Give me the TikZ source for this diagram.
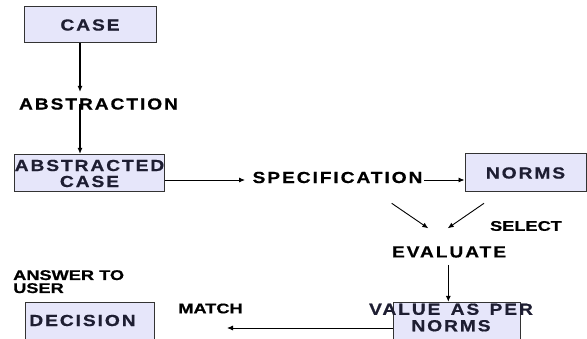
\documentclass[tikz,border=0pt]{standalone}
\usepackage{fontspec}
\setmainfont{Liberation Sans}
\newfontfamily\bigfont{Liberation Sans}[FakeStretch=1.2,LetterSpace=12,FakeBold=0.6]
\newfontfamily\smallfont{Liberation Sans}[FakeStretch=1.3,FakeBold=0.6]
\usetikzlibrary{arrows.meta}
\definecolor{boxfill}{HTML}{E6E6FA}
\definecolor{boxline}{HTML}{333333}
\definecolor{boxtext}{HTML}{1E1E32}
\begin{document}
\begin{tikzpicture}[x=1pt,y=-1pt,
  box/.style={draw=boxline, fill=boxfill, line width=1pt, inner sep=0pt, text=boxtext, align=center,
    font=\bigfont\bfseries\fontsize{16}{16}\selectfont},
  lbl/.style={inner sep=0pt, align=center, font=\bigfont\bfseries\fontsize{16}{16.5}\selectfont},
  small/.style={inner sep=0pt, align=left, font=\smallfont\bfseries\fontsize{14}{13}\selectfont},
  arr/.style={-{Latex[length=6pt,width=5pt]}, line width=0.9pt}]
\clip (0,0) rectangle (587,339);

% boxes
\node (case) at (90,25) [box, minimum width=132pt, minimum height=36pt] {CASE};
\node (abcase) at (89.5,173.5) [box, minimum width=129pt, minimum height=37pt] {ABSTRACTED\\CASE};
\node (norms) at (525.5,173) [box, minimum width=121pt, minimum height=38pt] {NORMS};
\node (value) at (456.5,322) [box, minimum width=127pt, minimum height=38pt] {};
\node (decision) at (89.5,322) [box, minimum width=129pt, minimum height=38pt] {};
\node (valuetext) at (451,317.5) [lbl, text=boxtext] {VALUE\hspace{3pt} AS\hspace{3pt} PER\\NORMS};
\node (decisiontext) at (82.5,320.5) [lbl, text=boxtext] {DECISION};

% labels
\node (abstraction) at (98.5,104) [lbl] {ABSTRACTION};
\node (spec) at (337.5,177.5) [lbl] {SPECIFICATION};
\node (evaluate) at (449,252) [lbl] {EVALUATE};
\node (select) at (526,226) [small] {SELECT};
\node (match) at (210.5,308.5) [small] {MATCH};
\node (answer) at (13,270) [small, anchor=north west] {ANSWER TO\\USER};

% free ends
\coordinate (t1) at (80,92);
\coordinate (s2) at (80,104);
\coordinate (t2) at (80,154);
\coordinate (t3) at (245,180);
\coordinate (s4) at (424,180);
\coordinate (s5) at (391.7,203.3);
\coordinate (t5) at (428.3,228.3);
\coordinate (s6) at (484,203.3);
\coordinate (t6) at (447.7,228.3);
\coordinate (s7) at (448.3,265);
\coordinate (t7) at (448.3,302);
\coordinate (t8) at (227,328);

\draw[arr, line width=1.4pt] ([xshift=-10pt]case.south) to (t1);
\draw[arr, line width=1.4pt] (s2) to (t2);
\draw[arr] (abcase.east |- t3) to (t3);
\draw[arr] (s4) to (norms.west |- s4);
\draw[arr] (s5) to (t5);
\draw[arr] (s6) to (t6);
\draw[arr, line width=1.2pt] (s7) to (t7);
\draw[arr] ([yshift=-6pt]value.west) to (t8);
\end{tikzpicture}
\end{document}
